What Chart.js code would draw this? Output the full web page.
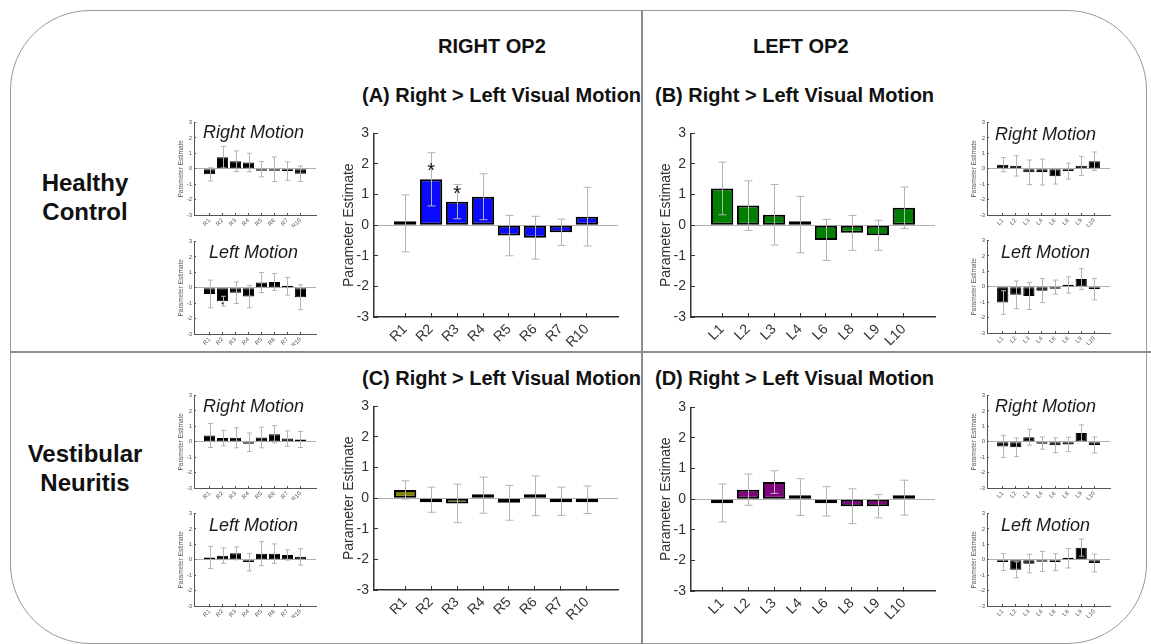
<!DOCTYPE html>
<html>
<head>
<meta charset="utf-8">
<script src="https://cdn.jsdelivr.net/npm/chart.js@4.4.0/dist/chart.umd.min.js"></script>
<style>
body{margin:0;background:#fff;font-family:'Liberation Sans',Arial,sans-serif;}
#fig{position:relative;width:1151px;height:644px;overflow:hidden;background:#fff;}
#fig canvas{position:absolute;}
.t{position:absolute;line-height:1;white-space:nowrap;color:#111;}
.frame{position:absolute;left:10px;top:10px;width:1135px;height:632px;border:1.5px solid #9a9a9a;border-radius:80px;}
.hline{position:absolute;left:10px;top:351px;width:1141px;height:2px;background:#8c8c8c;}
.vline{position:absolute;left:641px;top:10px;width:2px;height:634px;background:#8c8c8c;}
.head{font-weight:bold;font-size:20px;}
.panel{font-weight:bold;font-size:20px;}
.group{font-weight:bold;font-size:24px;text-align:center;line-height:29px;width:150px;left:10px;}
.motion{font-style:italic;font-size:18px;color:#1a1a1a;}
</style>
</head>
<body>
<div id="fig">
  <div class="frame"></div>
  <div class="hline"></div>
  <div class="vline"></div>

  <div class="t head" style="left:438px;top:36px">RIGHT OP2</div>
  <div class="t head" style="left:753px;top:36px">LEFT OP2</div>
  <div class="t panel" style="left:362px;top:85px">(A) Right &gt; Left Visual Motion</div>
  <div class="t panel" style="left:655px;top:85px">(B) Right &gt; Left Visual Motion</div>
  <div class="t panel" style="left:362px;top:368px">(C) Right &gt; Left Visual Motion</div>
  <div class="t panel" style="left:655px;top:368px">(D) Right &gt; Left Visual Motion</div>
  <div class="t group" style="top:168px">Healthy<br>Control</div>
  <div class="t group" style="top:439px">Vestibular<br>Neuritis</div>

  <canvas id="hcRmR" width="155" height="112" style="left:165px;top:115px"></canvas>
  <canvas id="hcLmR" width="155" height="112" style="left:165px;top:234px"></canvas>
  <canvas id="vnRmR" width="155" height="112" style="left:165px;top:388px"></canvas>
  <canvas id="vnLmR" width="155" height="112" style="left:165px;top:506px"></canvas>
  <canvas id="hcRmL" width="156" height="112" style="left:958px;top:115px"></canvas>
  <canvas id="hcLmL" width="156" height="112" style="left:958px;top:233px"></canvas>
  <canvas id="vnRmL" width="156" height="112" style="left:958px;top:388px"></canvas>
  <canvas id="vnLmL" width="156" height="112" style="left:958px;top:506px"></canvas>

  <canvas id="panelA" width="295" height="240" style="left:330px;top:116px"></canvas>
  <canvas id="panelB" width="295" height="240" style="left:647px;top:116px"></canvas>
  <canvas id="panelC" width="295" height="240" style="left:330px;top:389px"></canvas>
  <canvas id="panelD" width="295" height="240" style="left:647px;top:390px"></canvas>

  <div class="t motion" style="left:203px;top:123px">Right Motion</div>
  <div class="t motion" style="left:209px;top:243px">Left Motion</div>
  <div class="t motion" style="left:203px;top:397px">Right Motion</div>
  <div class="t motion" style="left:209px;top:516px">Left Motion</div>
  <div class="t motion" style="left:995px;top:125px">Right Motion</div>
  <div class="t motion" style="left:1001px;top:243px">Left Motion</div>
  <div class="t motion" style="left:995px;top:397px">Right Motion</div>
  <div class="t motion" style="left:1001px;top:516px">Left Motion</div>
</div>

<script>
// ROI labels
const rightRois = ['R1', 'R2', 'R3', 'R4', 'R5', 'R6', 'R7', 'R10'];
const leftRois = ['L1', 'L2', 'L3', 'L4', 'L6', 'L8', 'L9', 'L10'];
const yTicks = [-3, -2, -1, 0, 1, 2, 3];

// right > left contrast, group means and error half-widths
const hcRightOp2 = [0.06, 1.50, 0.77, 0.93, -0.34, -0.41, -0.23, 0.28];
const hcRightOp2Err = [0.93, 0.87, 0.56, 0.75, 0.66, 0.70, 0.43, 0.96];
const hcRightOp2Sig = [1, 2];
const hcLeftOp2 = [1.20, 0.64, 0.34, 0.02, -0.48, -0.25, -0.33, 0.57];
const hcLeftOp2Err = [0.86, 0.81, 0.99, 0.92, 0.67, 0.57, 0.49, 0.68];
const vnRightOp2 = [0.27, -0.05, -0.17, 0.10, -0.15, 0.08, -0.10, -0.05];
const vnRightOp2Err = [0.30, 0.41, 0.63, 0.59, 0.57, 0.65, 0.46, 0.45];
const vnLeftOp2 = [-0.12, 0.31, 0.56, 0.07, -0.07, -0.23, -0.23, 0.05];
const vnLeftOp2Err = [0.62, 0.51, 0.37, 0.60, 0.48, 0.57, 0.38, 0.57];

// single-direction motion conditions
const hcRightMotionR = [-0.36, 0.75, 0.49, 0.41, -0.02, -0.03, -0.15, -0.32];
const hcRightMotionRErr = [0.43, 0.70, 0.67, 0.60, 0.50, 0.80, 0.60, 0.50];
const hcLeftMotionR = [-0.40, -0.87, -0.32, -0.57, 0.34, 0.38, 0.10, -0.61];
const hcLeftMotionRErr = [0.90, 0.32, 0.70, 0.73, 0.65, 0.55, 0.57, 0.81];
const hcLeftMotionRSig = [1];
const vnRightMotionR = [0.41, 0.24, 0.26, -0.03, 0.28, 0.49, 0.21, 0.15];
const vnRightMotionRErr = [0.78, 0.50, 0.65, 0.60, 0.67, 0.56, 0.50, 0.52];
const vnLeftMotionR = [0.15, 0.27, 0.42, -0.15, 0.40, 0.40, 0.31, 0.19];
const vnLeftMotionRErr = [0.72, 0.50, 0.42, 0.57, 0.78, 0.63, 0.33, 0.53];

const hcRightMotionL = [0.27, 0.19, -0.23, -0.21, -0.48, -0.15, 0.19, 0.49];
const hcRightMotionLErr = [0.46, 0.66, 0.80, 0.84, 0.51, 0.52, 0.62, 0.60];
const hcLeftMotionL = [-1.02, -0.52, -0.60, -0.25, -0.02, 0.12, 0.50, -0.15];
const hcLeftMotionLErr = [0.77, 0.90, 0.87, 0.78, 0.46, 0.53, 0.68, 0.70];
const vnRightMotionL = [-0.30, -0.36, 0.30, -0.08, -0.23, -0.17, 0.57, -0.21];
const vnRightMotionLErr = [0.72, 0.60, 0.52, 0.40, 0.48, 0.47, 0.53, 0.52];
const vnLeftMotionL = [-0.15, -0.65, -0.25, -0.10, -0.15, 0.10, 0.79, -0.21];
const vnLeftMotionLErr = [0.55, 0.52, 0.60, 0.65, 0.55, 0.63, 0.56, 0.58];

// error bars + significance stars, drawn on top of the bars
const errorBars = {
  id: 'errorBars',
  afterDatasetsDraw(chart, args, o) {
    const {ctx, scales: {x, y}} = chart;
    const pts = chart.data.datasets[0].data;
    ctx.save();
    ctx.strokeStyle = '#b4b4b4';
    ctx.lineWidth = 1;
    pts.forEach((p, i) => {
      const e = o.errors[i];
      const px = Math.round(x.getPixelForValue(p.x)) + 0.5;
      const y1 = y.getPixelForValue(p.y + e), y2 = y.getPixelForValue(p.y - e);
      ctx.beginPath();
      ctx.moveTo(px, y1); ctx.lineTo(px, y2);
      ctx.moveTo(px - o.cap, y1); ctx.lineTo(px + o.cap, y1);
      ctx.moveTo(px - o.cap, y2); ctx.lineTo(px + o.cap, y2);
      ctx.stroke();
    });
    ctx.fillStyle = '#111';
    ctx.font = o.starSize + 'px "Liberation Sans", Arial, sans-serif';
    ctx.textAlign = 'center';
    ctx.textBaseline = 'middle';
    (o.stars || []).forEach(i => {
      const p = pts[i];
      const dir = p.y >= 0 ? -1 : 1;
      const py = y.getPixelForValue(p.y) + dir * o.starGap + o.starSize * 0.22;
      ctx.fillText('*', x.getPixelForValue(p.x), py);
    });
    ctx.restore();
  }
};

function barPanel(id, labels, values, errors, color, big, stars) {
  const s = big
    ? {tick: 14, title: 14, titlePad: 11, yw: 44, xh: 39, top: 11, right: 7, border: 2, minLen: 4, tl: -4, cap: 4, star: 20, gap: 12, ink: '#333', axis: 1.5}
    : {tick: 6, title: 6.5, titlePad: 12, yw: 29, xh: 12, top: 6, right: 4, border: 1, minLen: 2, tl: -2, cap: 2.5, star: 8, gap: 2, ink: '#555', axis: 1};
  const font = {family: "'Liberation Sans', Arial, sans-serif", size: s.tick};
  new Chart(document.getElementById(id), {
    type: 'bar',
    data: {
      datasets: [{
        data: values.map((v, i) => ({x: i + 1, y: v})),
        backgroundColor: color,
        borderColor: '#000',
        borderWidth: s.border,
        borderSkipped: false,
        minBarLength: s.minLen,
        categoryPercentage: 1,
        barPercentage: 0.86
      }]
    },
    options: {
      responsive: false,
      animation: false,
      events: [],
      layout: {padding: {top: s.top, right: s.right, left: 0, bottom: 0}},
      plugins: {
        legend: {display: false},
        tooltip: {enabled: false},
        errorBars: {errors, stars, cap: s.cap, starSize: s.star, starGap: s.gap}
      },
      scales: {
        x: {
          type: 'linear',
          min: -0.2,
          max: 9.2,
          offset: false,
          afterBuildTicks: sc => { sc.ticks = labels.map((_, i) => ({value: i + 1})); },
          afterFit: sc => { sc.height = s.xh; },
          ticks: {
            callback: v => labels[v - 1],
            autoSkip: false,
            minRotation: 45,
            maxRotation: 45,
            padding: big ? 8 : 4,
            color: s.ink,
            font
          },
          grid: {drawOnChartArea: false, offset: false, tickLength: s.tl, tickColor: s.ink},
          border: {color: s.ink, width: s.axis}
        },
        y: {
          min: -3,
          max: 3,
          afterBuildTicks: sc => { sc.ticks = yTicks.map(v => ({value: v})); },
          afterFit: sc => { sc.width = s.yw; },
          ticks: {padding: big ? 9 : 4, color: s.ink, font},
          grid: {
            color: c => c.tick && c.tick.value === 0 ? '#b0b0b0' : 'rgba(0,0,0,0)',
            tickLength: s.tl,
            tickColor: s.ink,
            lineWidth: 1
          },
          border: {color: s.ink, width: s.axis},
          title: {
            display: true,
            text: 'Parameter Estimate',
            color: s.ink,
            padding: {top: s.titlePad, bottom: 0},
            font: {family: font.family, size: s.title}
          }
        }
      }
    },
    plugins: [errorBars]
  });
}

// main contrasts
barPanel('panelA', rightRois, hcRightOp2, hcRightOp2Err, '#0a0aff', true, hcRightOp2Sig);
barPanel('panelB', leftRois, hcLeftOp2, hcLeftOp2Err, '#007f00', true);
barPanel('panelC', rightRois, vnRightOp2, vnRightOp2Err, '#7f7f00', true);
barPanel('panelD', leftRois, vnLeftOp2, vnLeftOp2Err, '#800080', true);

// side panels
barPanel('hcRmR', rightRois, hcRightMotionR, hcRightMotionRErr, '#000', false);
barPanel('hcLmR', rightRois, hcLeftMotionR, hcLeftMotionRErr, '#000', false, hcLeftMotionRSig);
barPanel('vnRmR', rightRois, vnRightMotionR, vnRightMotionRErr, '#000', false);
barPanel('vnLmR', rightRois, vnLeftMotionR, vnLeftMotionRErr, '#000', false);
barPanel('hcRmL', leftRois, hcRightMotionL, hcRightMotionLErr, '#000', false);
barPanel('hcLmL', leftRois, hcLeftMotionL, hcLeftMotionLErr, '#000', false);
barPanel('vnRmL', leftRois, vnRightMotionL, vnRightMotionLErr, '#000', false);
barPanel('vnLmL', leftRois, vnLeftMotionL, vnLeftMotionLErr, '#000', false);
</script>
</body>
</html>
